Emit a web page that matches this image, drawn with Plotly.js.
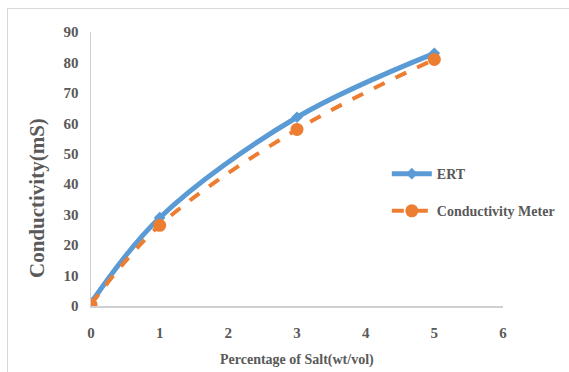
<!DOCTYPE html>
<html>
<head>
<meta charset="utf-8">
<script src="https://cdn.plot.ly/plotly-3.0.1.min.js"></script>
<style>
  html, body { margin: 0; padding: 0; background: #fff; }
  #wrap { position: relative; width: 569px; height: 372px; }
  #chart { width: 569px; height: 372px; }
  #frame { position: absolute; left: 7px; top: 8px; right: 0; bottom: 0;
           border-left: 1px solid #d9d9d9; border-top: 1px solid #d9d9d9; pointer-events: none; }
</style>
</head>
<body>
<div id="wrap">
  <div id="chart"></div>
  <div id="frame"></div>
</div>
<script>
const saltPct = [0, 1, 3, 5];
const ertValues = [1, 29, 62, 83];
const meterValues = [0.5, 26.5, 58, 81];
const xTicks = [0, 1, 2, 3, 4, 5, 6];
const yTicks = [0, 10, 20, 30, 40, 50, 60, 70, 80, 90];

const fontFam = '"Liberation Serif", "Times New Roman", serif';
const grey = '#595959';

const traces = [
  {
    x: saltPct, y: ertValues, name: 'ERT', type: 'scatter', mode: 'lines+markers',
    legendgroup: 'a',
    line: { color: '#5B9BD5', width: 5, shape: 'spline' },
    marker: { symbol: 'diamond', size: 9, color: '#5B9BD5' }
  },
  {
    x: saltPct, y: meterValues, name: 'Conductivity Meter', type: 'scatter', mode: 'lines+markers',
    legendgroup: 'b',
    line: { color: '#ED7D31', width: 4, dash: 'dash', shape: 'spline' },
    marker: { symbol: 'circle', size: 13, color: '#ED7D31' }
  }
];

const layout = {
  width: 569, height: 372,
  margin: { l: 91, r: 66, t: 32, b: 66, autoexpand: false },
  paper_bgcolor: 'rgba(0,0,0,0)', plot_bgcolor: 'rgba(0,0,0,0)',
  showlegend: true,
  font: { family: fontFam, color: grey, size: 14 },
  xaxis: {
    range: [0, 6], tickvals: xTicks, showgrid: false, zeroline: false,
    showline: true, linecolor: '#d0d0d0', linewidth: 1.5,
    ticks: '', ticklabelstandoff: 12,
    tickfont: { family: fontFam, color: grey, size: 15, weight: 'bold' }
  },
  yaxis: {
    range: [0, 90], tickvals: yTicks, showgrid: false, zeroline: false,
    showline: true, linecolor: '#d0d0d0', linewidth: 1.5,
    ticks: '', ticklabelstandoff: 8,
    tickfont: { family: fontFam, color: grey, size: 15, weight: 'bold' }
  },
  legend: {
    x: 0.718, y: 0.54, xanchor: 'left', yanchor: 'top',
    bgcolor: 'rgba(0,0,0,0)', tracegroupgap: 16, itemwidth: 40,
    font: { family: fontFam, color: grey, size: 14, weight: 'bold' }
  },
  annotations: [
    {
      text: 'Conductivity(mS)', xref: 'paper', yref: 'paper',
      x: (37 - 91) / 412, y: (306 - 198) / 274, xanchor: 'center', yanchor: 'middle',
      textangle: -90, showarrow: false,
      font: { family: fontFam, color: grey, size: 21, weight: 'bold' }
    },
    {
      text: 'Percentage of Salt(wt/vol)', xref: 'paper', yref: 'paper',
      x: 0.5, y: (306 - 360) / 274, xanchor: 'center', yanchor: 'middle',
      showarrow: false,
      font: { family: fontFam, color: grey, size: 14, weight: 'bold' }
    }
  ]
};

Plotly.newPlot('chart', traces, layout, { displayModeBar: false, staticPlot: true });
</script>
</body>
</html>
